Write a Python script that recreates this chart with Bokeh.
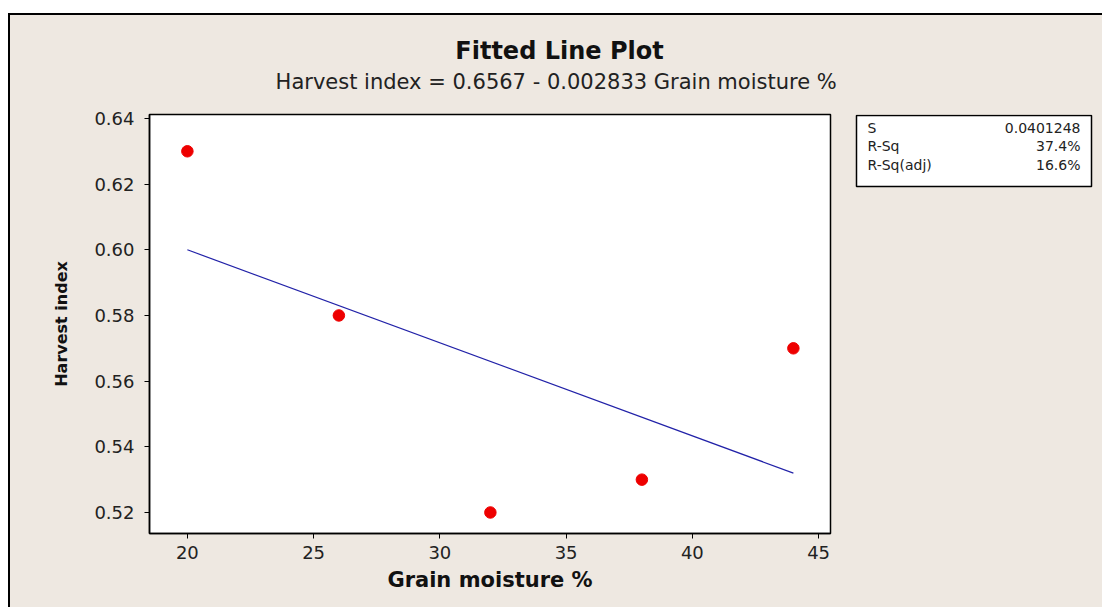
import numpy as np
from bokeh.plotting import figure
from bokeh.models import FixedTicker, Range1d, Spacer, CustomJSTickFormatter
from bokeh.core.properties import value
from bokeh.layouts import column, row
from bokeh.embed import file_html
from bokeh.resources import INLINE

# ---- data ----
grain_moisture = [20, 26, 32, 38, 44]
harvest_index = [0.63, 0.58, 0.52, 0.53, 0.57]
x_ticks = [20, 25, 30, 35, 40, 45]
y_ticks = [0.52, 0.54, 0.56, 0.58, 0.60, 0.62, 0.64]
stat_names = ["S", "R-Sq", "R-Sq(adj)"]
stat_values = ["0.0401248", "37.4%", "16.6%"]
title_text = "Fitted Line Plot"
subtitle_text = "Harvest index =  0.6567 - 0.002833 Grain moisture %"
x_label = "Grain moisture %"
y_label = "Harvest index"

slope, intercept = np.polyfit(grain_moisture, harvest_index, 1)
fit_x = [min(grain_moisture), max(grain_moisture)]
fit_y = [intercept + slope * v for v in fit_x]

BG = "#EEE8E1"
FONT = "DejaVu Sans"
TOP_H = 84          # title strip height (page y 15..99)
H = 592 - TOP_H     # plot row height (page y 99..607)
BT, BB = 15, 74     # shared top / bottom borders of the plot row

# ---- title strip (coordinates = page pixels) ----
t = figure(width=1092, height=TOP_H, output_backend="svg", toolbar_location=None,
           x_range=Range1d(10, 1102), y_range=Range1d(15 + TOP_H, 15),
           min_border=0)
t.border_fill_color = BG
t.background_fill_color = BG
t.outline_line_color = None
t.axis.visible = False
t.grid.visible = False
t.text(x=[559], y=[50], text=[title_text], text_align="center", text_baseline="middle",
       text_font=value(FONT), text_font_style="bold", text_font_size="24px",
       text_color="#111111")
t.text(x=[559], y=[81], text=[subtitle_text], text_align="center", text_baseline="middle",
       text_font=value(FONT), text_font_size="21px", text_color="#222222")

# ---- main plot ----
p = figure(width=833, height=H, output_backend="svg", toolbar_location=None,
           x_range=Range1d(18.5, 45.47), y_range=Range1d(0.5136, 0.6412),
           min_border_left=139, min_border_right=13, min_border_top=BT,
           min_border_bottom=BB)
p.border_fill_color = BG
p.background_fill_color = "white"
p.outline_line_color = "black"
p.outline_line_width = 1.5
p.grid.visible = False

p.xaxis.ticker = FixedTicker(ticks=x_ticks)
p.yaxis.ticker = FixedTicker(ticks=y_ticks)
p.yaxis.formatter = CustomJSTickFormatter(code="return tick.toFixed(2);")
for ax in (p.xaxis, p.yaxis):
    ax.axis_line_color = "black"
    ax.axis_line_width = 1.5
    ax.major_tick_line_color = "black"
    ax.major_tick_out = 5
    ax.major_tick_in = 0
    ax.minor_tick_line_color = None
    ax.major_label_text_font = FONT
    ax.major_label_text_font_size = "18px"
    ax.major_label_text_color = "#222222"
    ax.axis_label_text_font = FONT
    ax.axis_label_text_font_style = "bold"
    ax.axis_label_text_color = "#111111"
p.xaxis.axis_label = x_label
p.yaxis.axis_label = y_label
p.xaxis.axis_label_text_font_size = "21px"
p.yaxis.axis_label_text_font_size = "16px"
p.xaxis.major_label_standoff = 7
p.yaxis.major_label_standoff = 10
p.xaxis.axis_label_standoff = 6
p.yaxis.axis_label_standoff = 20

p.line(fit_x, fit_y, line_color="#2222A8", line_width=1.2)
p.scatter(grain_moisture, harvest_index, size=11.5, fill_color="#EE0000", line_color="#EE0000")

# ---- stats box (coordinates in pixels inside its own frame) ----
s = figure(width=259, height=H, output_backend="svg", toolbar_location=None,
           x_range=Range1d(846, 1100), y_range=Range1d(0, 419),
           min_border_left=3, min_border_right=2, min_border_top=BT,
           min_border_bottom=BB)
s.border_fill_color = BG
s.background_fill_color = BG
s.outline_line_color = None
s.axis.visible = False
s.grid.visible = False
s.quad(left=[856], right=[1091], top=[418], bottom=[347], fill_color="white",
       line_color="black", line_width=1.5)
row_pos = [406, 388, 369]
s.text(x=[867] * 3, y=row_pos, text=stat_names, text_align="left",
       text_baseline="middle", text_font=value(FONT), text_font_size="14px",
       text_color="#222222")
s.text(x=[1080] * 3, y=row_pos, text=stat_values, text_align="right",
       text_baseline="middle", text_font=value(FONT), text_font_size="14px",
       text_color="#222222")

# ---- frame lines and page margin ----
top_line = Spacer(width=1094, height=2, styles={"background-color": "black"})
left_line = Spacer(width=2, height=592, styles={"background-color": "black"})
layout = column(
    Spacer(width=1102, height=13),
    row(Spacer(width=8, height=2), top_line),
    row(Spacer(width=8, height=592), left_line,
        column(t, row(p, s, styles={"background-color": BG}),
               styles={"background-color": BG})),
)
open("out.html", "w").write(file_html(layout, INLINE))
